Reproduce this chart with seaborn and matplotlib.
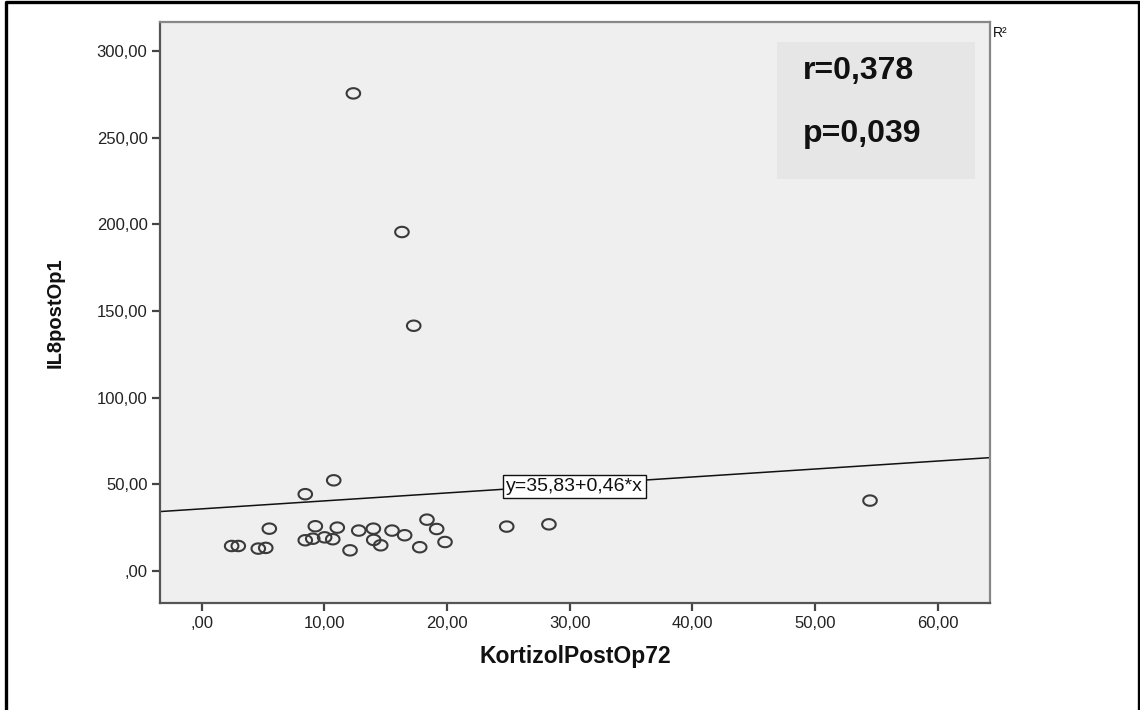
import numpy as np
import pandas as pd
import matplotlib
matplotlib.use("Agg")
import matplotlib.pyplot as plt
from matplotlib.path import Path
from matplotlib.patches import Rectangle
from matplotlib.lines import Line2D
import seaborn as sns

# ---- data ----
kortizol = [2.44, 2.98, 4.61, 5.22, 5.51, 8.44, 10.76, 8.44, 9.05, 9.26,
            10.02, 10.68, 11.05, 12.09, 12.80, 13.99, 14.02, 14.59, 15.51, 16.54,
            17.77, 18.36, 19.15, 19.83, 24.86, 28.30, 54.47, 12.36, 16.32, 17.28]
il8 = [14.4, 14.4, 12.9, 13.3, 24.4, 44.3, 52.3, 17.7, 18.6, 25.8,
       19.4, 18.3, 25.0, 11.9, 23.3, 24.4, 17.9, 14.8, 23.3, 20.6,
       13.7, 29.6, 24.2, 16.7, 25.6, 26.9, 40.6, 275.6, 195.6, 141.5]
fit_intercept = 35.83
fit_slope = 0.46
x_ticks = [0, 10, 20, 30, 40, 50, 60]
x_ticklabels = [",00", "10,00", "20,00", "30,00", "40,00", "50,00", "60,00"]
y_ticks = [0, 50, 100, 150, 200, 250, 300]
y_ticklabels = [",00", "50,00", "100,00", "150,00", "200,00", "250,00", "300,00"]
x_label = "KortizolPostOp72"
y_label = "IL8postOp1"
equation_text = "y=35,83+0,46*x"
r_text = "r=0,378"
p_text = "p=0,039"
r2_text = "R²"

sns.set_theme(style="white")
plt.rcParams["font.family"] = ["Liberation Sans", "DejaVu Sans"]

W, H = 1140, 710
fig = plt.figure(figsize=(W / 100, H / 100), dpi=100)
fig.patch.set_facecolor("white")

def px_ax(l, t, r, b):
    return [l / W, 1 - b / H, (r - l) / W, (b - t) / H]

ax = fig.add_axes(px_ax(160, 22, 990, 603))
ax.set_facecolor("#efefef")

xlim = (-3.4, 64.25)
ylim = (-18.5, 316.8)

df = pd.DataFrame({"x": kortizol, "y": il8})

# elliptical open marker (reference is horizontally stretched)
t = np.linspace(0, 2 * np.pi, 60)
ell = Path(np.column_stack([0.65 * np.cos(t), 0.5 * np.sin(t)]), closed=True)

sns.scatterplot(data=df, x="x", y="y", ax=ax, marker=ell, s=95,
                linewidth=1.5, edgecolor="#3a3a3a", legend=False, zorder=3)
for coll in ax.collections:
    coll.set_facecolor("none")
    coll.set_edgecolor("#3a3a3a")

# fit line
fx = np.array(xlim)
fit_df = pd.DataFrame({"x": fx, "y": fit_intercept + fit_slope * fx})
sns.lineplot(data=fit_df, x="x", y="y", ax=ax, color="#111111", linewidth=1.1, zorder=2)

ax.set_xlim(*xlim)
ax.set_ylim(*ylim)

ax.set_xticks(x_ticks)
ax.set_xticklabels(x_ticklabels)
ax.set_yticks(y_ticks)
ax.set_yticklabels(y_ticklabels)
ax.tick_params(axis="both", which="major", direction="out", length=6,
               width=1.6, color="#444444", labelsize=12, labelcolor="#222222",
               bottom=True, left=True, pad=3)

for side, sp in ax.spines.items():
    sp.set_visible(True)
    sp.set_linewidth(1.6)
    sp.set_color("#555555" if side in ("left", "bottom") else "#888888")

ax.set_xlabel(x_label, fontsize=16.5, fontweight="bold", color="#111111")
ax.set_ylabel(y_label, fontsize=14.5, fontweight="bold", color="#111111")
ax.xaxis.set_label_coords(0.5, (603 - 645) / 581)
ax.xaxis.label.set_va("top")
ax.yaxis.set_label_coords((65 - 160) / 830, (603 - 313) / 581)

# equation label on line
ax.text(30.4, 48.8, equation_text, fontsize=14, ha="center", va="center",
        color="#111111", zorder=4,
        bbox=dict(boxstyle="square,pad=0.15", fc="white", ec="#111111", lw=1.0))

# stats box
box = Rectangle((0.743, 0.7298), 0.982 - 0.743, 0.9656 - 0.7298,
                transform=ax.transAxes, facecolor="#e6e6e6", edgecolor="none", zorder=1)
ax.add_patch(box)
fig.text(803 / W, 1 - 71 / H, r_text, fontsize=23, fontweight="bold",
         ha="left", va="center", color="#111111")
fig.text(803 / W, 1 - 134 / H, p_text, fontsize=23, fontweight="bold",
         ha="left", va="center", color="#111111")

# truncated R² legend text
fig.text(993 / W, 1 - 33 / H, r2_text, fontsize=10, ha="left", va="center", color="#111111")

# outer border (left, top, right; bottom lies outside the picture)
bx0, bx1, by0 = 6 / W, 1138.5 / W, 1 - 2 / H
fig.add_artist(Line2D([bx0, bx0, bx1, bx1], [0, by0, by0, 0], transform=fig.transFigure,
                      color="black", linewidth=2.4))

fig.savefig("out.png", dpi=100)
